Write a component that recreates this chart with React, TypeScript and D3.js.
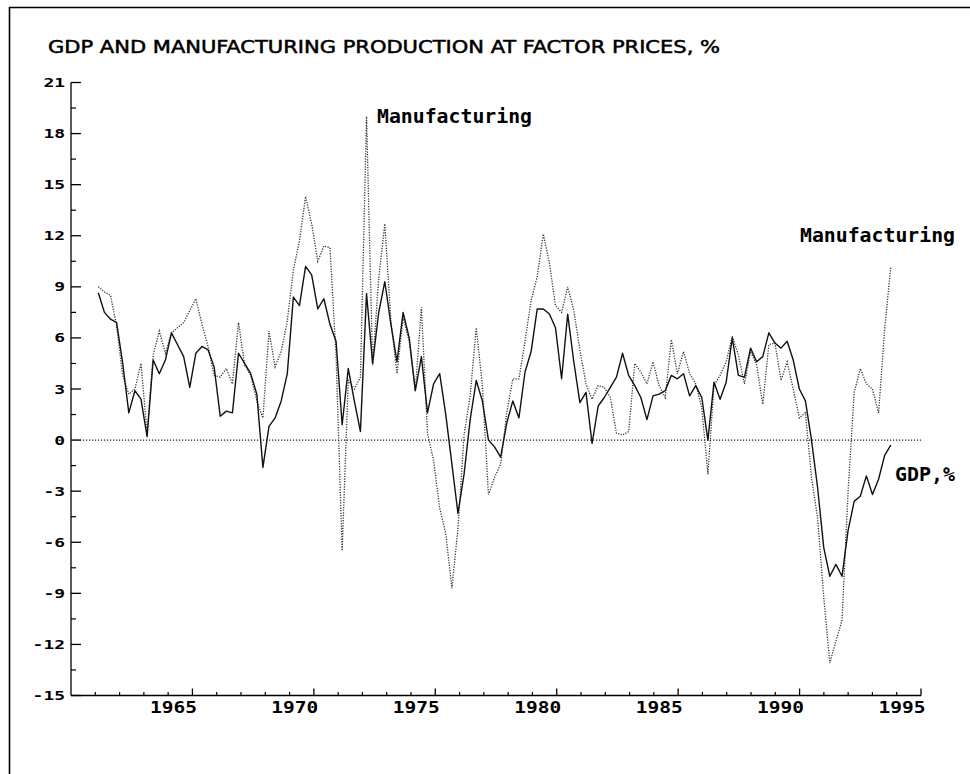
import React from "react";
import * as d3 from "d3";

const TITLE = "GDP AND MANUFACTURING PRODUCTION AT FACTOR PRICES, %";

// Quarterly growth rates (%), starting early 1961
const gdp = [
  8.65, 7.5, 7.1, 6.9, 4.5, 1.6, 2.9, 2.4, 0.2, 4.7,
  3.9, 4.7, 6.3, 5.6, 4.9, 3.1, 5.1, 5.5, 5.3, 4.3,
  1.4, 1.7, 1.6, 5.1, 4.5, 3.9, 2.7, -1.6, 0.8, 1.3,
  2.3, 3.9, 8.4, 7.9, 10.2, 9.7, 7.7, 8.3, 6.8, 5.8,
  0.9, 4.2, 2.3, 0.5, 8.6, 4.5, 7.5, 9.3, 6.8, 4.6,
  7.5, 6.0, 2.9, 4.9, 1.6, 3.3, 3.9, 1.5, -1.4, -4.3,
  -2.0, 1.2, 3.5, 2.3, 0.0, -0.4, -1.0, 1.0, 2.3, 1.3,
  4.0, 5.2, 7.7, 7.7, 7.4, 6.6, 3.6, 7.4, 4.6, 2.2,
  2.8, -0.2, 2.0, 2.5, 3.1, 3.7, 5.1, 3.8, 3.2, 2.5,
  1.2, 2.6, 2.7, 2.9, 3.8, 3.6, 3.9, 2.6, 3.2, 2.5,
  0.0, 3.4, 2.4, 3.4, 6.0, 3.8, 3.7, 5.4, 4.6, 4.9,
  6.3, 5.7, 5.4, 5.8, 4.7, 3.0, 2.3, 0.0, -2.8, -6.3,
  -8.0, -7.3, -8.0, -5.3, -3.6, -3.3, -2.1, -3.2, -2.3, -0.9,
  -0.3,
];

const manufacturing = [
  9.0, 8.7, 8.5, 6.7, 3.8, 2.7, 3.0, 4.5, 0.4, 5.0,
  6.4, 5.1, 6.3, 6.6, 6.9, 7.6, 8.3, 6.8, 5.5, 3.8,
  3.7, 4.2, 3.3, 6.9, 4.4, 3.8, 2.3, 1.3, 6.4, 4.3,
  5.2, 7.0, 10.0, 11.7, 14.3, 12.7, 10.5, 11.4, 11.3, 5.0,
  -6.5, 3.5, 3.0, 3.7, 19.0, 4.4, 9.5, 12.7, 7.0, 3.9,
  7.2, 5.8, 2.9, 7.8, 0.4, -1.2, -4.0, -5.5, -8.7, -5.2,
  0.3, 2.6, 6.6, 3.2, -3.2, -2.2, -1.4, 1.6, 3.6, 3.6,
  5.8, 8.2, 9.6, 12.1, 10.4, 7.9, 7.5, 9.0, 7.6, 5.3,
  3.3, 2.4, 3.2, 3.1, 2.5, 0.4, 0.3, 0.5, 4.5, 4.0,
  3.3, 4.6, 3.2, 2.5, 5.9, 3.9, 5.2, 3.9, 3.3, 1.9,
  -2.0, 3.2, 3.8, 4.6, 6.1, 5.0, 3.3, 5.2, 4.4, 2.1,
  5.6, 5.7, 3.5, 4.6, 3.0, 1.3, 1.6, -2.2, -4.6, -9.2,
  -13.1, -11.8, -10.6, -3.0, 2.8, 4.2, 3.3, 3.0, 1.6, 6.5,
  10.2,
];

const FIRST_PERIOD = 1961.125;
const PERIOD_STEP = 0.251;
const periods = gdp.map((_, i) => FIRST_PERIOD + i * PERIOD_STEP);

const yTickValues = [-15, -12, -9, -6, -3, 0, 3, 6, 9, 12, 15, 18, 21];
const yMinorValues = [-13.5, -10.5, -7.5, -4.5, -1.5, 1.5, 4.5, 7.5, 10.5, 13.5, 16.5, 19.5];
const xLabelYears = [1965, 1970, 1975, 1980, 1985, 1990, 1995];
const xMinorYears = d3.range(1961, 1995).filter((y) => y % 5 !== 0);

const W = 970;
const H = 774;

export default function App() {
  const x = d3.scaleLinear().domain([1960, 1995]).range([71, 921]);
  const y = d3.scaleLinear().domain([-15, 21]).range([695.5, 82.5]);

  const line = d3
    .line<number>()
    .x((_, i) => x(periods[i]))
    .y((d) => y(d));

  const mono = "'DejaVu Sans Mono', 'Liberation Mono', monospace";
  const axisBase = y(-15);

  return (
    <svg
      width={W}
      height={H}
      viewBox={`0 0 ${W} ${H}`}
      style={{ position: "absolute", left: 0, top: 0, background: "#fff" }}
    >
      <rect x={0} y={0} width={W} height={H} fill="#fff" />
      {/* frame */}
      <line x1={9.5} y1={7} x2={9.5} y2={H} stroke="#000" strokeWidth={1.6} />
      <line x1={9} y1={7.5} x2={W} y2={7.5} stroke="#000" strokeWidth={1.6} />

      {/* title */}
      <text
        x={48}
        y={53}
        fontFamily="'DejaVu Sans Condensed', 'DejaVu Sans', sans-serif"
        fontSize={17}
        textLength={672}
        lengthAdjust="spacingAndGlyphs"
        fill="#000"
        stroke="#000"
        strokeWidth={0.45}
      >
        {TITLE}
      </text>

      {/* y axis */}
      <line x1={x(1960)} y1={y(21)} x2={x(1960)} y2={axisBase} stroke="#000" strokeWidth={1.3} />
      {yTickValues.map((v) => (
        <g key={"yt" + v}>
          <line x1={x(1960)} x2={x(1960) + 10} y1={y(v)} y2={y(v)} stroke="#000" strokeWidth={1.3} />
          <text
            x={65}
            y={y(v) + 4.5}
            textAnchor="end"
            fontFamily={mono}
            fontWeight="bold"
            fontSize={13}
            textLength={String(v).length * 10.8}
            lengthAdjust="spacingAndGlyphs"
            fill="#000"
          >
            {String(v)}
          </text>
        </g>
      ))}
      {yMinorValues.map((v) => (
        <line key={"ym" + v} x1={x(1960)} x2={x(1960) + 5} y1={y(v)} y2={y(v)} stroke="#000" strokeWidth={1.2} />
      ))}

      {/* x axis */}
      <line x1={x(1960)} y1={axisBase} x2={x(1995)} y2={axisBase} stroke="#000" strokeWidth={1.3} />
      {xLabelYears.map((yr) => (
        <g key={"xt" + yr}>
          <line x1={x(yr)} x2={x(yr)} y1={axisBase} y2={axisBase - 7} stroke="#000" strokeWidth={1.3} />
          <text
            x={x(yr) - 19}
            y={713}
            textAnchor="middle"
            fontFamily={mono}
            fontWeight="bold"
            fontSize={15}
            textLength={47}
            lengthAdjust="spacingAndGlyphs"
            fill="#000"
          >
            {yr}
          </text>
        </g>
      ))}
      {xMinorYears.map((yr) => (
        <line key={"xm" + yr} x1={x(yr)} x2={x(yr)} y1={axisBase} y2={axisBase - 3.5} stroke="#000" strokeWidth={1.2} />
      ))}

      {/* zero line */}
      <line
        x1={x(1960)}
        x2={x(1995)}
        y1={y(0)}
        y2={y(0)}
        stroke="#222"
        strokeWidth={1.1}
        strokeDasharray="1.2 1.8"
      />

      {/* manufacturing (dotted) */}
      <path
        d={line(manufacturing) || ""}
        fill="none"
        stroke="#333"
        strokeWidth={1.3}
        strokeDasharray="1.2 1.4"
      />
      {/* GDP (solid) */}
      <path d={line(gdp) || ""} fill="none" stroke="#111" strokeWidth={1.4} strokeLinejoin="round" />

      {/* labels */}
      <text
        x={377}
        y={123}
        fontFamily={mono}
        fontWeight="bold"
        fontSize={19}
        textLength={155}
        lengthAdjust="spacingAndGlyphs"
        fill="#000"
      >
        Manufacturing
      </text>
      <text
        x={800}
        y={242}
        fontFamily={mono}
        fontWeight="bold"
        fontSize={19}
        textLength={155}
        lengthAdjust="spacingAndGlyphs"
        fill="#000"
      >
        Manufacturing
      </text>
      <text
        x={895}
        y={481}
        fontFamily={mono}
        fontWeight="bold"
        fontSize={19}
        textLength={60}
        lengthAdjust="spacingAndGlyphs"
        fill="#000"
      >
        GDP,%
      </text>
    </svg>
  );
}
